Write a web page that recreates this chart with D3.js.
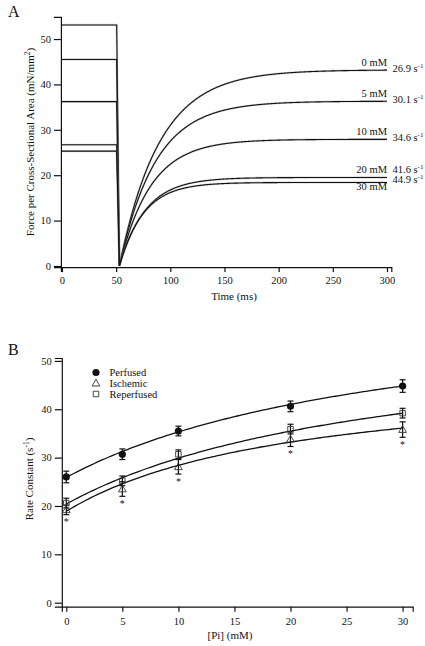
<!DOCTYPE html>
<html><head><meta charset="utf-8">
<script src="https://cdn.jsdelivr.net/npm/d3@7/dist/d3.min.js"></script>
<style>
body{margin:0;background:#fff}
svg{display:block}
text{font-family:"Liberation Serif","Times New Roman",serif;fill:#111}
</style></head>
<body>
<svg id="c" width="425" height="646"></svg>
<script>
// ---------- Panel A data ----------
const traceLabels = ["0 mM","5 mM","10 mM","20 mM","30 mM"];
const rateLabels = ["26.9","30.1","34.6","41.6","44.9"];
const preLevel = [53.1, 45.5, 36.2, 26.7, 25.3];      // isometric force before step
const steadyForce = [43.2, 36.3, 27.9, 19.5, 18.4];   // recovered force
const rateK = [26.9, 30.1, 34.6, 41.6, 44.9];         // s^-1
const stepStart = 50.5, stepEnd = 53;                 // ms
const xTicksA = [0,50,100,150,200,250,300];
const yTicksA = [0,10,20,30,40,50];

// ---------- Panel B data ----------
const pi = [0,5,10,20,30];
const perfused = [26.0, 30.7, 35.5, 40.6, 44.8];
const perfusedErr = [1.2, 1.1, 1.0, 1.1, 1.3];
const ischemic = [19.2, 23.5, 28.1, 33.8, 35.8];
const ischemicErr = [1.0, 1.5, 1.5, 1.5, 1.6];
const reperfused = [20.6, 25.2, 30.7, 35.9, 39.2];
const reperfusedErr = [1.0, 1.0, 0.9, 1.0, 1.0];
const ischemicSig = [true,true,true,true,true];
// hyperbolic fits k = a + b*Pi/(K+Pi)
const fitA = [25.9, 18.9, 20.4];
const fitB = [38.2, 28.9, 36.8];
const fitK = [30.6, 20.4, 28.8];
const xTicksB = [0,5,10,15,20,25,30];
const yTicksB = [0,10,20,30,40,50];
const legendNames = ["Perfused","Ischemic","Reperfused"];

const svg = d3.select("#c");
const ink = "#111";

function styleAxis(g){
  g.selectAll("path,line").attr("stroke",ink).attr("stroke-width",1.2);
  g.selectAll("text").attr("font-size","10.5px").style("font-family",'"Liberation Serif",serif').attr("fill",ink);
}

// ================= Panel A =================
const xA = d3.scaleLinear().domain([-1,304]).range([60.9,391.3]);
const yA = d3.scaleLinear().domain([-0.25,54.9]).range([267.1,16.8]);

svg.append("g").attr("transform",`translate(0,${yA(-0.25)})`)
  .call(d3.axisBottom(xA).tickValues(xTicksA).tickSizeOuter(0).tickSize(5).tickPadding(4))
  .call(styleAxis);
svg.append("g").attr("transform",`translate(${xA(-1)},0)`)
  .call(d3.axisLeft(yA).tickValues(yTicksA).tickSizeOuter(0).tickSize(7).tickPadding(3))
  .call(styleAxis);

const lineA = d3.line().x(d=>xA(d[0])).y(d=>yA(d[1]));
preLevel.forEach((L,i)=>{
  const pts = [[0,L],[stepStart,L],[stepEnd,0]];
  for(let t=stepEnd+0.5;t<=300;t+=0.5){
    pts.push([t, steadyForce[i]*(1-Math.exp(-rateK[i]/1000*(t-stepEnd)))]);
  }
  svg.append("path").attr("d",lineA(pts)).attr("fill","none")
    .attr("stroke","#888").attr("stroke-width",2.2).attr("opacity",0.35);
  svg.append("path").attr("d",lineA(pts)).attr("fill","none")
    .attr("stroke",ink).attr("stroke-width",1.1);
});

const labY = [65.7, 96.7, 135, 173.3, 190];
const rateY = [72, 103.3, 140.7, 173.3, 183.3];
traceLabels.forEach((t,i)=>{
  svg.append("text").attr("x",387).attr("y",labY[i]).attr("text-anchor","end")
    .attr("font-size","10.5px").text(t);
  const r = svg.append("text").attr("x",392.5).attr("y",rateY[i]).attr("font-size","10.5px");
  r.append("tspan").text(rateLabels[i]+" s");
  r.append("tspan").attr("font-size","7px").attr("dy",-4).text("-1");
});

svg.append("text").attr("x",8).attr("y",17).attr("font-size","16px").text("A");
svg.append("text").attr("x",234).attr("y",300).attr("text-anchor","middle")
  .attr("font-size","11px").text("Time (ms)");
const ytA = svg.append("text").attr("transform","translate(34,142) rotate(-90)")
  .attr("text-anchor","middle").attr("font-size","11px");
ytA.append("tspan").text("Force per Cross-Sectional Area (mN/mm");
ytA.append("tspan").attr("font-size","7.5px").attr("dy",-4).text("2");
ytA.append("tspan").attr("dy",4).text(")");

// ================= Panel B =================
const xB = d3.scaleLinear().domain([-0.4,30.9]).range([61.8,412.7]);
const yB = d3.scaleLinear().domain([-0.83,50.6]).range([606.7,358]);

svg.append("g").attr("transform",`translate(0,${yB(-0.83)})`)
  .call(d3.axisBottom(xB).tickValues(xTicksB).tickSizeOuter(0).tickSize(5).tickPadding(6))
  .call(styleAxis);
svg.append("g").attr("transform",`translate(${xB(-0.4)},0)`)
  .call(d3.axisLeft(yB).tickValues(yTicksB).tickSizeOuter(0).tickSize(7).tickPadding(3))
  .call(styleAxis);

// fits
const fitLine = d3.line().x(d=>xB(d[0])).y(d=>yB(d[1]));
fitA.forEach((a,i)=>{
  const pts = d3.range(0,30.01,0.25).map(p=>[p, a + fitB[i]*p/(fitK[i]+p)]);
  svg.append("path").attr("d",fitLine(pts)).attr("fill","none")
    .attr("stroke",ink).attr("stroke-width",1.3);
});

function errBars(vals, errs){
  vals.forEach((v,i)=>{
    const x = xB(pi[i]);
    const g = svg.append("g").attr("stroke",ink).attr("stroke-width",1.2);
    g.append("line").attr("x1",x).attr("x2",x).attr("y1",yB(v-errs[i])).attr("y2",yB(v+errs[i]));
    [v-errs[i], v+errs[i]].forEach(e=>g.append("line").attr("x1",x-3).attr("x2",x+3).attr("y1",yB(e)).attr("y2",yB(e)));
  });
}
errBars(ischemic, ischemicErr);
errBars(reperfused, reperfusedErr);
errBars(perfused, perfusedErr);

const tri = d3.symbol().type(d3.symbolTriangle).size(26);
const sq = d3.symbol().type(d3.symbolSquare).size(30);
function triangle(x,y){svg.append("path").attr("d",tri()).attr("transform",`translate(${x},${y+0.6})`).attr("fill","none").attr("stroke","#333").attr("stroke-width",0.9);}
function square(x,y){svg.append("path").attr("d",sq()).attr("transform",`translate(${x},${y})`).attr("fill","none").attr("stroke","#333").attr("stroke-width",0.9);}
function circle(x,y){svg.append("circle").attr("cx",x).attr("cy",y).attr("r",3.6).attr("fill",ink);}

ischemic.forEach((v,i)=>triangle(xB(pi[i]),yB(v)));
reperfused.forEach((v,i)=>square(xB(pi[i]),yB(v)));
perfused.forEach((v,i)=>circle(xB(pi[i]),yB(v)));

ischemic.forEach((v,i)=>{
  if(ischemicSig[i]) svg.append("text").attr("x",xB(pi[i])).attr("y",yB(v-ischemicErr[i])+10.5)
    .attr("text-anchor","middle").attr("font-size","10px").attr("fill","#333").text("*");
});

// legend
const legY = [372.5, 383.2, 394];
circle(96, legY[0]);
triangle(96, legY[1]);
square(96, legY[2]);
legendNames.forEach((n,i)=>svg.append("text").attr("x",109.5).attr("y",legY[i]+3.6)
  .attr("font-size","10.5px").text(n));

svg.append("text").attr("x",8).attr("y",355).attr("font-size","16px").text("B");
svg.append("text").attr("x",230).attr("y",639).attr("text-anchor","middle")
  .attr("font-size","11px").text("[Pi] (mM)");
const ytB = svg.append("text").attr("transform","translate(33,479) rotate(-90)")
  .attr("text-anchor","middle").attr("font-size","11px");
ytB.append("tspan").text("Rate Constant (s");
ytB.append("tspan").attr("font-size","7.5px").attr("dy",-4).text("-1");
ytB.append("tspan").attr("dy",4).text(")");
</script>
</body></html>
